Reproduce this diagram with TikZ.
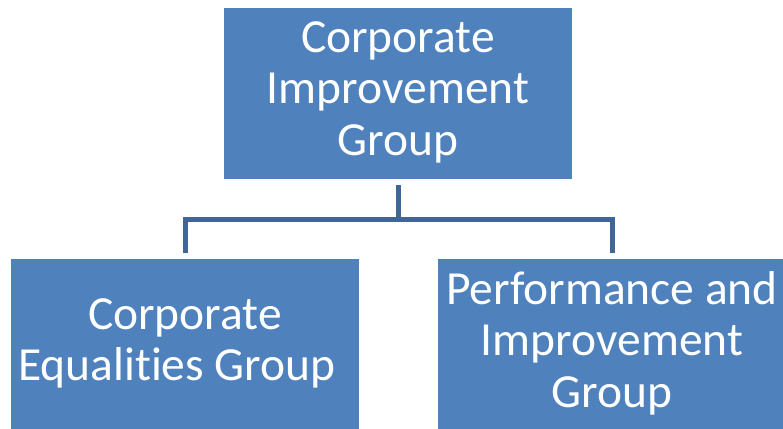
\documentclass[tikz,border=0pt]{standalone}
\usepackage{fontspec}
\setmainfont[Ligatures=NoCommon]{Carlito}
\definecolor{boxblue}{RGB}{79,129,189}
\definecolor{linkblue}{RGB}{64,102,150}
\begin{document}
\begin{tikzpicture}[x=1pt,y=1pt,
  orgbox/.style={fill=boxblue, draw=none, inner sep=0pt, minimum width=348pt,
    minimum height=171pt, text=white, align=center,
    font=\fontsize{47.5}{51.5}\selectfont, text depth=10pt,
    execute at begin node={\rule{0pt}{42pt}}},
  link/.style={draw=linkblue, line width=5pt, line join=miter}]
\useasboundingbox (0,0) rectangle (783,-428);
\node[orgbox] (top) at (398,-93.5) {Corporate\\Improvement\\Group};
\node[orgbox] (left) at (185,-344.5) {Corporate\\Equalities Group\hspace*{16pt}};
\node[orgbox] (right) at (612,-344.5) {Performance and\\Improvement\\Group};
\coordinate (mid) at ([yshift=-40pt]top.south);
\draw[link] ([yshift=-6pt]top.south) -- (mid);
\draw[link] ([yshift=6pt]left.north) |- (mid) -| ([yshift=6pt]right.north);
\end{tikzpicture}
\end{document}
